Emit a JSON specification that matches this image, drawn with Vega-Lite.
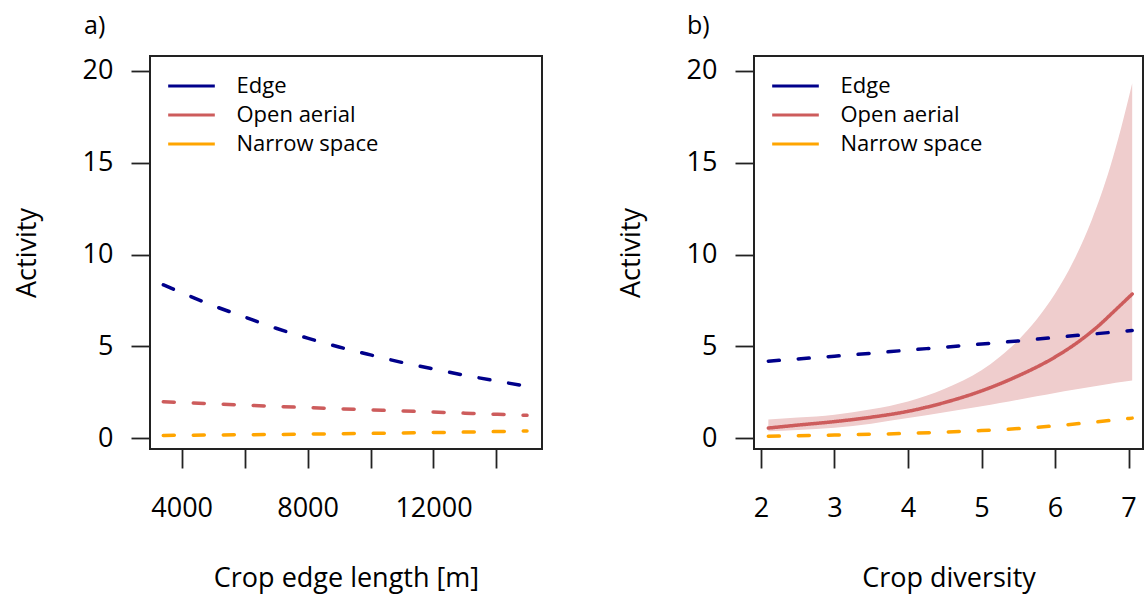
{
  "$schema": "https://vega.github.io/schema/vega-lite/v6.json",
  "autosize": "none",
  "padding": {"left": 150, "top": 56, "right": 996, "bottom": 539},
  "background": "white",
  "config": {
    "font": "Open Sans",
    "view": {"stroke": "#222222", "strokeWidth": 2},
    "axis": {
      "labelFont": "Open Sans", "labelFontSize": 27, "labelColor": "black",
      "titleFont": "Open Sans", "titleFontSize": 27, "titleFontWeight": "normal", "titleColor": "black",
      "domain": false, "grid": false, "tickColor": "#222222", "tickWidth": 1.8, "tickSize": 19
    },
    "legend": {
      "orient": "none", "legendX": 30.5, "legendY": 19,
      "symbolType": "M-4,0H4", "symbolSize": 136, "symbolStrokeWidth": 3.2,
      "labelFont": "Open Sans", "labelFontSize": 22, "labelColor": "black",
      "labelOffset": 34, "rowPadding": 7, "padding": 0
    },
    "title": {"font": "Open Sans", "fontSize": 25, "fontWeight": "normal", "color": "black"}
  },
  "datasets": {
    "a": [
      {"series": "Edge", "x": 3416, "y": 8.35},
      {"series": "Edge", "x": 4000, "y": 7.92},
      {"series": "Edge", "x": 5000, "y": 7.22},
      {"series": "Edge", "x": 6000, "y": 6.6},
      {"series": "Edge", "x": 7000, "y": 5.99},
      {"series": "Edge", "x": 8000, "y": 5.45},
      {"series": "Edge", "x": 9000, "y": 4.97},
      {"series": "Edge", "x": 10000, "y": 4.54},
      {"series": "Edge", "x": 11000, "y": 4.13},
      {"series": "Edge", "x": 12000, "y": 3.77},
      {"series": "Edge", "x": 13000, "y": 3.43},
      {"series": "Edge", "x": 14000, "y": 3.12},
      {"series": "Edge", "x": 14971, "y": 2.83},
      {"series": "Open aerial", "x": 3416, "y": 1.99},
      {"series": "Open aerial", "x": 5000, "y": 1.88},
      {"series": "Open aerial", "x": 7000, "y": 1.74},
      {"series": "Open aerial", "x": 9000, "y": 1.61},
      {"series": "Open aerial", "x": 11000, "y": 1.49},
      {"series": "Open aerial", "x": 13000, "y": 1.37},
      {"series": "Open aerial", "x": 14971, "y": 1.25},
      {"series": "Narrow space", "x": 3416, "y": 0.16},
      {"series": "Narrow space", "x": 5000, "y": 0.18},
      {"series": "Narrow space", "x": 7000, "y": 0.21},
      {"series": "Narrow space", "x": 9000, "y": 0.25},
      {"series": "Narrow space", "x": 11000, "y": 0.29},
      {"series": "Narrow space", "x": 13000, "y": 0.34},
      {"series": "Narrow space", "x": 14971, "y": 0.4}
    ],
    "b": [
      {"series": "Edge", "x": 2.1, "y": 4.2},
      {"series": "Edge", "x": 2.5, "y": 4.32},
      {"series": "Edge", "x": 3, "y": 4.47},
      {"series": "Edge", "x": 3.5, "y": 4.63},
      {"series": "Edge", "x": 4, "y": 4.8},
      {"series": "Edge", "x": 4.5, "y": 4.96},
      {"series": "Edge", "x": 5, "y": 5.13},
      {"series": "Edge", "x": 5.5, "y": 5.3},
      {"series": "Edge", "x": 6, "y": 5.49},
      {"series": "Edge", "x": 6.5, "y": 5.67},
      {"series": "Edge", "x": 7.05, "y": 5.87},
      {"series": "Open aerial", "x": 2.1, "y": 0.56},
      {"series": "Open aerial", "x": 2.5, "y": 0.72},
      {"series": "Open aerial", "x": 3, "y": 0.91},
      {"series": "Open aerial", "x": 3.5, "y": 1.15},
      {"series": "Open aerial", "x": 4, "y": 1.47},
      {"series": "Open aerial", "x": 4.5, "y": 1.95},
      {"series": "Open aerial", "x": 5, "y": 2.58},
      {"series": "Open aerial", "x": 5.5, "y": 3.4},
      {"series": "Open aerial", "x": 6, "y": 4.42},
      {"series": "Open aerial", "x": 6.3, "y": 5.2},
      {"series": "Open aerial", "x": 6.6, "y": 6.15},
      {"series": "Open aerial", "x": 6.8, "y": 6.9},
      {"series": "Open aerial", "x": 7.05, "y": 7.85},
      {"series": "Narrow space", "x": 2.1, "y": 0.11},
      {"series": "Narrow space", "x": 2.5, "y": 0.14},
      {"series": "Narrow space", "x": 3, "y": 0.18},
      {"series": "Narrow space", "x": 3.5, "y": 0.22},
      {"series": "Narrow space", "x": 4, "y": 0.27},
      {"series": "Narrow space", "x": 4.5, "y": 0.34},
      {"series": "Narrow space", "x": 5, "y": 0.42},
      {"series": "Narrow space", "x": 5.5, "y": 0.53},
      {"series": "Narrow space", "x": 6, "y": 0.68},
      {"series": "Narrow space", "x": 6.5, "y": 0.87},
      {"series": "Narrow space", "x": 7.05, "y": 1.1}
    ],
    "ribbon": [
      {"x": 2.1, "lo": 0.38, "hi": 1.02},
      {"x": 2.5, "lo": 0.46, "hi": 1.13},
      {"x": 3, "lo": 0.58, "hi": 1.29},
      {"x": 3.5, "lo": 0.8, "hi": 1.58},
      {"x": 4, "lo": 1.1, "hi": 2.01},
      {"x": 4.5, "lo": 1.42, "hi": 2.7},
      {"x": 5, "lo": 1.74, "hi": 3.7},
      {"x": 5.25, "lo": 1.92, "hi": 4.44},
      {"x": 5.5, "lo": 2.1, "hi": 5.34},
      {"x": 5.75, "lo": 2.29, "hi": 6.46},
      {"x": 6, "lo": 2.47, "hi": 7.86},
      {"x": 6.25, "lo": 2.64, "hi": 9.63},
      {"x": 6.5, "lo": 2.8, "hi": 11.88},
      {"x": 6.75, "lo": 2.97, "hi": 14.76},
      {"x": 6.9, "lo": 3.06, "hi": 16.9},
      {"x": 7.05, "lo": 3.15, "hi": 19.32}
    ]
  },
  "bounds": "flush",
  "spacing": 212,
  "resolve": {
    "scale": {"color": "independent", "x": "independent", "y": "independent"},
    "legend": {"color": "independent"}
  },
  "hconcat": [
    {
      "width": 392,
      "height": 393,
      "title": {"text": "a)", "anchor": "start", "frame": "group", "dx": -66, "dy": 26, "offset": 23, "baseline": "alphabetic"},
      "data": {"name": "a"},
      "mark": {"type": "line", "strokeWidth": 3.5, "strokeCap": "round", "interpolate": "monotone"},
      "encoding": {
        "x": {
          "field": "x", "type": "quantitative",
          "scale": {"domain": [2994, 15448], "nice": false, "zero": false},
          "axis": {
            "values": [4000, 6000, 8000, 10000, 12000, 14000],
            "format": "d",
            "labelExpr": "datum.value % 4000 == 0 ? datum.label : ''",
            "labelBaseline": "alphabetic", "labelPadding": 48,
            "title": "Crop edge length [m]",
            "titleX": 196, "titleY": 137, "titleAlign": "center", "titleBaseline": "alphabetic"
          }
        },
        "y": {
          "field": "y", "type": "quantitative",
          "scale": {"domain": [-0.58, 20.8], "nice": false, "zero": false},
          "axis": {
            "values": [0, 5, 10, 15, 20], "labelPadding": 18,
            "title": "Activity",
            "titleX": -115, "titleY": 196.5, "titleAngle": 270, "titleAlign": "center", "titleBaseline": "alphabetic"
          }
        },
        "color": {
          "field": "series", "type": "nominal",
          "scale": {"domain": ["Edge", "Open aerial", "Narrow space"], "range": ["#00008B", "#CD5C5C", "#FFA500"]},
          "legend": {"title": null}
        },
        "strokeDash": {"value": [11, 19]}
      }
    },
    {
      "width": 389,
      "height": 393,
      "title": {"text": "b)", "anchor": "start", "frame": "group", "dx": -67, "dy": 26, "offset": 23, "baseline": "alphabetic"},
      "layer": [
        {
          "data": {"name": "ribbon"},
          "mark": {"type": "area", "fill": "#EFCDCD", "opacity": 1, "interpolate": "monotone"},
          "encoding": {
            "x": {
              "field": "x", "type": "quantitative",
              "scale": {"domain": [1.905, 7.197], "nice": false, "zero": false},
              "axis": {
                "values": [2, 3, 4, 5, 6, 7], "format": "d",
                "labelBaseline": "alphabetic", "labelPadding": 48,
                "title": "Crop diversity",
                "titleX": 194.5, "titleY": 137, "titleAlign": "center", "titleBaseline": "alphabetic"
              }
            },
            "y": {
              "field": "lo", "type": "quantitative",
              "scale": {"domain": [-0.58, 20.8], "nice": false, "zero": false},
              "axis": {
                "values": [0, 5, 10, 15, 20], "labelPadding": 18,
                "title": "Activity",
                "titleX": -115, "titleY": 196.5, "titleAngle": 270, "titleAlign": "center", "titleBaseline": "alphabetic"
              }
            },
            "y2": {"field": "hi"}
          }
        },
        {
          "data": {"name": "b"},
          "mark": {"type": "line", "strokeWidth": 3.5, "strokeCap": "round", "interpolate": "monotone"},
          "encoding": {
            "x": {"field": "x", "type": "quantitative"},
            "y": {"field": "y", "type": "quantitative"},
            "color": {
              "field": "series", "type": "nominal",
              "scale": {"domain": ["Edge", "Open aerial", "Narrow space"], "range": ["#00008B", "#CD5C5C", "#FFA500"]},
              "legend": {"title": null}
            },
            "strokeDash": {
              "field": "series", "type": "nominal",
              "scale": {"domain": ["Edge", "Open aerial", "Narrow space"], "range": [[11, 19], [1, 0], [11, 19]]},
              "legend": null
            }
          }
        }
      ]
    }
  ]
}
